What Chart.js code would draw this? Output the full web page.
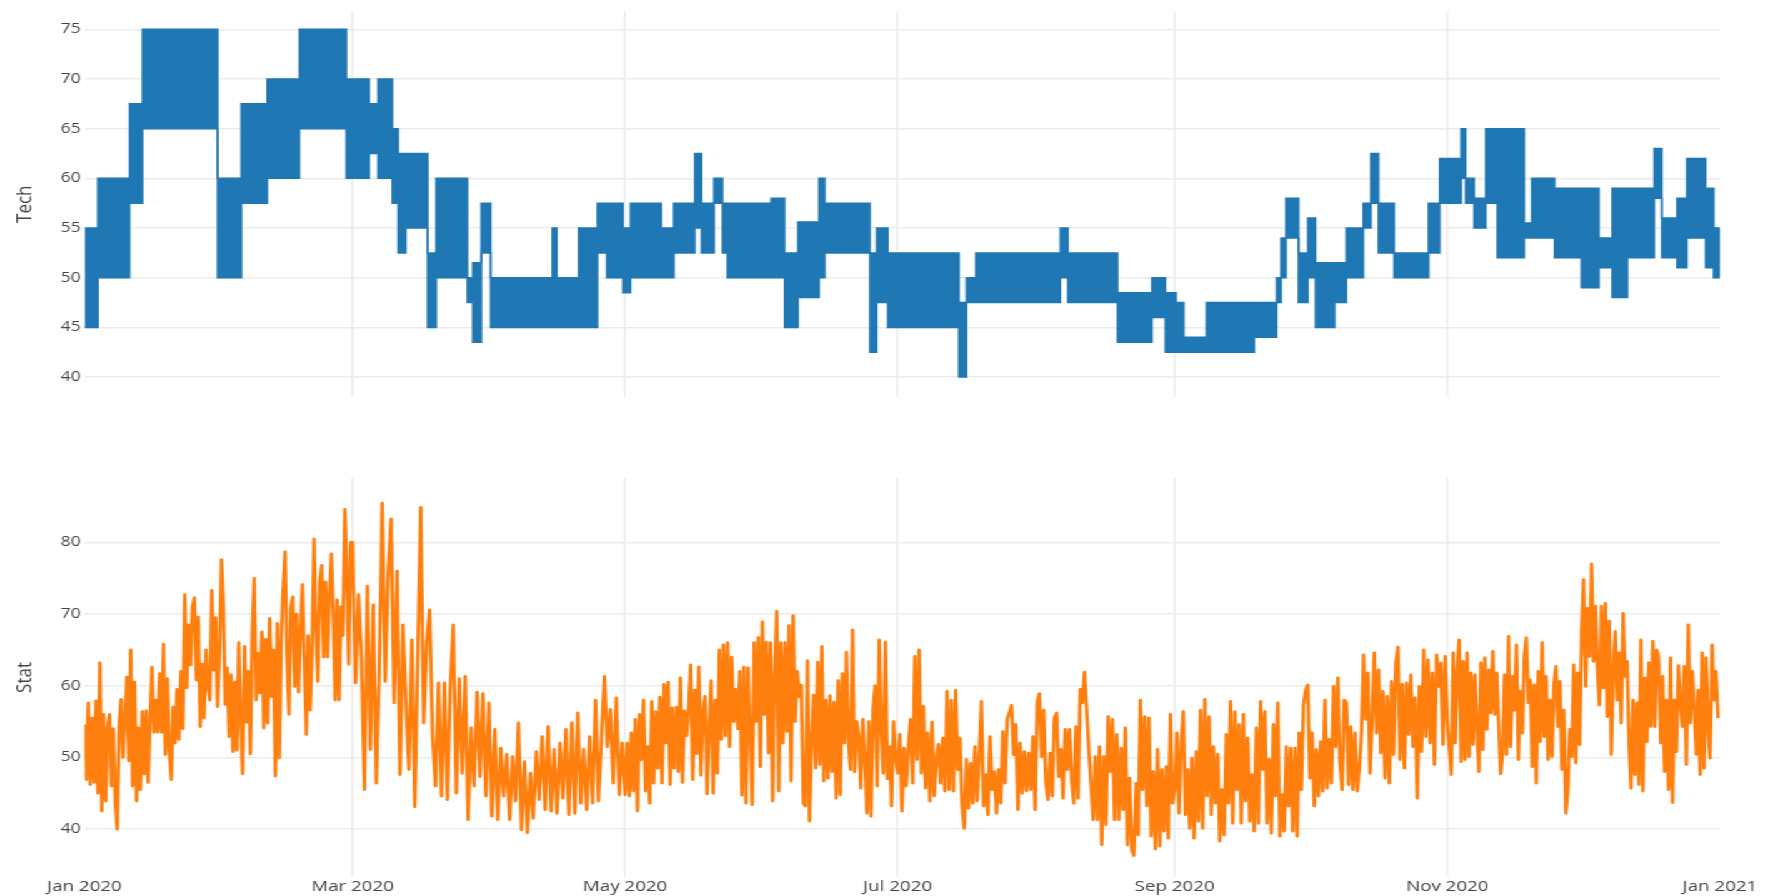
<!DOCTYPE html>
<html>
<head>
<meta charset="utf-8">
<script src="https://cdn.jsdelivr.net/npm/chart.js@4.4.1/dist/chart.umd.min.js"></script>
<style>
  html, body { margin: 0; padding: 0; background: #fff; overflow: hidden; }
  #wrap { position: absolute; left: 0; top: 0; width: 1412px; height: 896px; transform: scaleX(1.25); transform-origin: 0 0; }
  #wrap canvas { position: absolute; left: 0; }
  #c-tech { top: 0; }
  #c-stat { top: 440px; }
</style>
</head>
<body>
<div id="wrap">
  <canvas id="c-tech" width="1412" height="420"></canvas>
  <canvas id="c-stat" width="1412" height="456"></canvas>
</div>
<script>
// x axis: day of year 2020 (0 = 1 Jan 2020, 366 = 1 Jan 2021)
const tickDays = [0, 60, 121, 182, 244, 305, 366];
const tickLabels = ['Jan 2020', 'Mar 2020', 'May 2020', 'Jul 2020', 'Sep 2020', 'Nov 2020', 'Jan 2021'];

// Tech: blocks where the series swings between a low and a high level
const techStart = [0, 3, 10.1, 13, 29.8, 35.1, 40.9, 48.1, 58.6, 63.7,
  65.7, 68.9, 70.2, 71.9, 76.8, 78.7, 85.7, 86.9, 88.8, 90.9,
  104.7, 105.7, 110.6, 114.8, 116.9, 120.5, 122.2, 129.1, 131.9, 136.6,
  138.1, 140.9, 142.8, 143.9, 153.7, 156.7, 159.7, 164.4, 165.7, 175.8,
  177.3, 179.8, 195.7, 197.4, 199.5, 218.4, 220.1, 231.2, 238.9, 241.9,
  244.3, 246, 251.1, 261.8, 266.8, 267.8, 268.9, 271.7, 273.8, 275.5,
  279.8, 282.4, 286.2, 287.9, 289.6, 293.1, 300.8, 303.3, 308.1, 309.1,
  311, 313.6, 316.2, 322.2, 323.9, 329, 335, 338.9, 341.9, 345.3,
  351.3, 353, 356.4, 358.6, 362.8, 364.6];
const techLow = [45, 50, 57.5, 65, 50, 57.5, 60, 65, 60, 62.5,
  60, 57.5, 52.5, 55, 45, 50, 47.5, 43.5, 52.5, 45,
  45, 45, 45, 52.5, 50, 48.5, 50, 50, 52.5, 55,
  52.5, 57.5, 52.5, 50, 50, 45, 48, 50, 52.5, 42.5,
  47.5, 45, 40, 47.5, 47.5, 50, 47.5, 43.5, 46, 42.5,
  42.5, 42.5, 42.5, 44, 47.5, 50, 54, 47.5, 50, 45,
  47.5, 50, 55, 57.5, 52.5, 50, 52.5, 57.5, 60, 57.5,
  55, 57.5, 52, 54, 54, 52, 49, 51, 48, 52,
  58, 52, 51, 54, 51, 50];
const techHigh = [55, 60, 67.5, 75, 60, 67.5, 70, 75, 70, 67.5,
  70, 65, 62.5, 62.5, 52.5, 60, 50, 51.5, 57.5, 50,
  55, 50, 55, 57.5, 57.5, 55, 57.5, 55, 57.5, 62.5,
  57.5, 60, 57.5, 57.5, 58, 52.5, 55.6, 60, 57.5, 52.5,
  55, 52.5, 47.5, 50, 52.5, 55, 52.5, 48.5, 50, 48.5,
  47.5, 44, 47.5, 47.5, 50, 54, 58, 52.5, 56, 51.5,
  51.5, 55, 57.5, 62.5, 57.5, 52.5, 57.5, 62, 65, 60,
  58, 65, 65, 55.5, 60, 59, 59, 54, 59, 59,
  63, 56, 58, 62, 59, 55];

// Stat: readings per two-month period, in order
const statJanFeb = [54.6, 46.9, 57.6, 46.2, 55.5, 46.5, 57.9, 45, 63.2, 42.5, 56, 43.9, 54.1, 56, 46, 54, 43.6, 40, 54.6, 58.1,
  50, 55.5, 61.2, 49.5, 65, 46, 60.5, 43.9, 54.1, 45.5, 56.4, 47.7, 56.5, 46.5, 55, 62.6, 53.5, 58, 53.5, 61.7,
  53.5, 65.8, 50.4, 61, 51, 46.9, 57, 52, 59.5, 52.5, 62, 54, 72.7, 59.7, 68.5, 62.9, 71, 72.3, 60.8, 69.6,
  54.3, 63, 55.5, 65, 60, 58, 73.3, 62.2, 69.5, 57.1, 64, 77.6, 71.5, 57.4, 62.5, 52.9, 61.5, 50.8, 60.5, 51,
  66, 55, 47.7, 65.5, 54.9, 62, 50.5, 67.3, 75, 58, 64.5, 59, 67.5, 54.1, 66.5, 54.8, 69.4, 58.5, 65, 47.4,
  68.7, 49.9, 66.5, 73.4, 78.7, 64, 56, 71, 72.4, 59.9, 70, 59.1, 68, 74.1, 63.5, 53.2, 67, 56.6, 65, 80.5,
  68, 60.6, 74.5, 76.8, 64, 74.5, 64, 72.5, 78.4, 70, 58, 72, 58, 71, 67, 84.6, 76, 63, 80];
const statMarApr = [80, 60.4, 72.7, 63.6, 45.5, 73.9, 51.1, 71.3, 46.4, 62.2, 85.5, 60.6, 75.7, 83.3, 57.6, 76, 47.6, 68.5, 57.6, 48.3,
  66.4, 43.1, 64.1, 84.9, 54.8, 66, 70.6, 52.9, 46, 60.4, 44.6, 60.4, 44.1, 60.1, 68.5, 45, 61, 47.8, 61.3, 41.3,
  54.1, 46, 59.1, 47.3, 58.9, 44.6, 57.6, 41.8, 53.9, 41.3, 51.3, 44.6, 50.4, 41.3, 50.1, 43.9, 54.8, 39.9, 49.4, 39.5,
  47.8, 41.5, 50.8, 44.1, 52.9, 42.7, 54.3, 42.5, 51.1, 42.2, 52, 44.3, 53.9, 42, 54.8, 42.2, 56.2, 43.6, 51.1, 42.7,
  52.9, 43.6, 58, 43.9, 52.9, 61.3, 51.5, 56.7, 46.4, 58.3, 44.8, 52];
const statMayJun = [44.8, 52, 44.6, 53.4, 45.3, 55.3, 42.5, 56, 49.7, 58, 45.3, 51.5, 43.6, 57.8, 46.4, 56.4, 48.5, 58.4, 46.4, 60.2,
  52, 60.5, 46.2, 56.9, 48.5, 57, 48, 61.1, 46.5, 56.5, 53, 57, 62.9, 46.9, 59.4, 50.5, 62.6, 47.5, 56.5, 58.5,
  44.9, 54, 60.7, 45, 58, 47.8, 65, 52.5, 65.7, 53, 66, 51.5, 64, 55, 59.5, 54, 62, 44.7, 62.6, 43.6,
  62.5, 54, 43.4, 66, 55, 66.7, 48.7, 68.9, 56, 66.1, 50.6, 66, 43.9, 62, 70.4, 45.3, 66, 52, 66, 53.6,
  68.4, 46.7, 69.8, 55, 62, 58.5, 60.1, 43.6, 43.2, 63.5, 41.1, 52, 58.7, 48.5, 63.3, 49, 65.5, 46.7, 58, 47.1,
  58.6, 48, 57.7, 44.3, 60.7, 44.8, 61.7, 52, 64.7, 52, 48.3, 67.8, 48, 55, 53, 45.7, 55.3, 50, 42.2, 55,
  41.8, 56.7, 60, 46, 66.4, 54, 47.8, 66.1, 47, 51.5, 43.2, 55, 50];
const statJulAug = [47.8, 53.2, 42.5, 51.3, 46, 51.5, 55.3, 46.4, 64.1, 49.7, 65, 47.8, 57.1, 45.7, 53.4, 43.9, 54.9, 44.6, 49.7, 51.8,
  46.4, 52.7, 45.3, 59.2, 45.5, 58, 45.3, 59.4, 48.3, 52.7, 43.2, 40.1, 49.7, 42.9, 49.2, 43.6, 51.5, 43.9, 50.4, 57.8,
  43.2, 47.6, 42, 52.9, 45.5, 48, 42.2, 48.3, 43.6, 53.6, 46.4, 55.3, 56.2, 57.3, 50.4, 54.6, 42.7, 52, 45, 50.8,
  45.3, 50.6, 45.5, 52.9, 42.7, 57.8, 58.9, 50.1, 56.6, 46.4, 44.1, 50.6, 44.6, 55.5, 56.2, 47.3, 51.1, 44.3, 53.9, 48.3,
  53.9, 46.9, 43.6, 54.3, 44.3, 59.5, 57.6, 61.9, 56.6, 51.1, 46.4, 41.3, 50.1, 41.3, 51.5, 37.8, 50.1, 40.6, 55.7, 48,
  55.3, 41.3, 53.2, 41.3, 51.3, 42.7, 54.1, 37.8, 47.1, 37.1, 36.3, 46.4, 39.2, 58, 45.5, 55.7, 43.2, 55.5, 39, 48,
  37.2, 51.1, 37.6, 48.3, 39.7, 48.7, 38.7, 56, 43.6];
const statSepOct = [45.5, 53.4, 42.2, 52, 56.4, 42, 48.3, 40.1, 49.9, 38.7, 50.8, 41.1, 56.6, 40.1, 58.1, 44.6, 55.7, 42, 51.5, 43.6,
  50.4, 38.3, 45.5, 39.2, 53.2, 43.6, 57.8, 40.8, 56.4, 45.5, 54.6, 40.8, 56, 43.9, 52.7, 41.1, 47.6, 39.7, 54.1, 40.8,
  57.8, 48.3, 56.4, 40.8, 49.7, 39.4, 54.6, 44.6, 57.6, 39, 44.8, 39.7, 51.5, 43.2, 51.3, 39.7, 51.3, 39, 53.4, 45.5,
  57.3, 59.4, 60.1, 47.1, 53.4, 43.2, 51.1, 44.6, 52.2, 45.3, 58, 45.7, 52.5, 46.4, 59.9, 51.5, 61.1, 49.2, 45.5, 58,
  57.6, 46.2, 54.3, 45.5, 53.4, 45.3, 48.3, 53.4, 64.3, 55.3, 61.8, 47.8, 55.5, 64.6, 53.4, 62.2, 50.6, 59.2, 47.1, 58.5,
  46.4, 60.6, 50.4, 63.2, 65.4, 49.7, 60.2, 48.5, 60.4, 53.2, 61.5, 51.5, 58.3, 44.3, 59.9, 50.8, 65, 52.9, 63.6, 52,
  61.8, 49, 64.3, 59.9, 63.2, 51.8, 64.1];
const statNovDec = [54.8, 51.5, 47.6, 64.6, 52, 62.2, 66.4, 49.4, 63.4, 49.7, 64.6, 50.1, 61.8, 51.8, 61.5, 53.9, 48, 63.2, 51.1, 63.9,
  53.9, 62.2, 56.2, 64.8, 56, 61.8, 54.8, 47.7, 50.6, 61.5, 50.4, 66.9, 51.5, 61.3, 56.6, 65.7, 49.7, 59.2, 53.4, 64.1,
  66.7, 57.6, 60.8, 48.7, 60.1, 46.4, 62, 52.2, 66, 52.9, 61.3, 49.7, 58, 50.1, 60.1, 62.7, 54.3, 60.6, 48.3, 56.6,
  42.2, 45.3, 53.9, 50.1, 62.9, 49.2, 61.8, 51.8, 67.8, 74.8, 59.9, 70.8, 64.1, 77, 63.4, 71.1, 62.2, 57.3, 71.1, 59.7,
  71.5, 55.7, 69, 50.4, 62.2, 67.6, 58, 64.6, 54.8, 70.1, 61.3, 63.4, 52, 45.7, 58, 47.6, 57.6, 46.2, 66.4, 45.3,
  61.1, 52.2, 63.2, 54.3, 66.2, 54.3, 65, 63.9, 52, 61.3, 48, 58, 45.5, 63.9, 43.7, 58, 50.8, 62.8, 58, 54.3,
  62.7, 49, 68.5, 54.8, 62, 57.1, 50.4, 59.4, 47.6, 64.6, 48.5, 63.9, 54.3, 49.9, 65.7, 58, 62, 55.5];

const statPeriods = [
  [0, 60, statJanFeb], [60, 121, statMarApr], [121, 182, statMayJun],
  [182, 244, statJulAug], [244, 305, statSepOct], [305, 366, statNovDec]
];

const BLUE = '#1f77b4';
const ORANGE = '#ff7f0e';
const GRID = '#ebebeb';
const TEXT = '#444';
const FONT = "'Open Sans', 'Noto Sans', sans-serif";

function stepPoints(vals){
  const pts = techStart.map((d, i) => ({ x: d, y: vals[i] }));
  pts.push({ x: 366, y: vals[vals.length - 1] });
  return pts;
}

const statPoints = [];
statPeriods.forEach(([a, b, vals]) => {
  vals.forEach((v, i) => statPoints.push({ x: a + (b - a) * i / vals.length, y: v }));
});

function xScale(showLabels, axisHeight){
  return {
    type: 'linear', min: 0, max: 366,
    afterBuildTicks: s => { s.ticks = tickDays.map(v => ({ value: v })); },
    afterFit: s => { s.height = axisHeight; },
    border: { display: false },
    grid: {
      drawTicks: false, lineWidth: 1.5,
      color: c => (c.tick && (c.tick.value === 0 || c.tick.value === 366)) ? 'rgba(0,0,0,0)' : GRID
    },
    ticks: {
      display: showLabels, padding: 1, autoSkip: false, maxRotation: 0,
      color: TEXT, font: { family: FONT, size: 15 },
      callback: v => tickLabels[tickDays.indexOf(v)]
    }
  };
}

function yScale(min, max, ticks, title){
  return {
    min, max,
    afterBuildTicks: s => { s.ticks = ticks.map(v => ({ value: v })); },
    afterFit: s => { s.width = 67.5; },
    border: { display: false },
    grid: { color: GRID, lineWidth: 1.5, drawTicks: false },
    ticks: { padding: 3, color: TEXT, font: { family: FONT, size: 14 } },
    title: { display: true, text: title, color: TEXT, font: { family: FONT, size: 17 }, padding: { top: 10, bottom: 0 } }
  };
}

const baseOptions = {
  responsive: false,
  animation: false,
  devicePixelRatio: 1,
  plugins: { legend: { display: false }, tooltip: { enabled: false } },
  elements: { point: { radius: 0 } }
};

new Chart(document.getElementById('c-tech').getContext('2d'), {
  type: 'line',
  data: {
    datasets: [
      { label: 'Tech', data: stepPoints(techHigh), stepped: 'before', borderColor: BLUE, backgroundColor: BLUE, borderWidth: 1.5, fill: '+1' },
      { label: 'Tech low', data: stepPoints(techLow), stepped: 'before', borderColor: BLUE, borderWidth: 1.5, fill: false }
    ]
  },
  options: {
    ...baseOptions,
    layout: { padding: { top: 5, right: 36, left: 0, bottom: 0 } },
    scales: {
      x: xScale(false, 23),
      y: yScale(38, 76.8, [40, 45, 50, 55, 60, 65, 70, 75], 'Tech')
    }
  }
});

new Chart(document.getElementById('c-stat').getContext('2d'), {
  type: 'line',
  data: {
    datasets: [
      { label: 'Stat', data: statPoints, borderColor: ORANGE, borderWidth: 2.8, borderJoinStyle: 'round', fill: false, tension: 0 }
    ]
  },
  options: {
    ...baseOptions,
    layout: { padding: { top: 38, right: 36, left: 0, bottom: 0 } },
    scales: {
      x: xScale(true, 19),
      y: yScale(33.3, 89, [40, 50, 60, 70, 80], 'Stat')
    }
  }
});
</script>
</body>
</html>
